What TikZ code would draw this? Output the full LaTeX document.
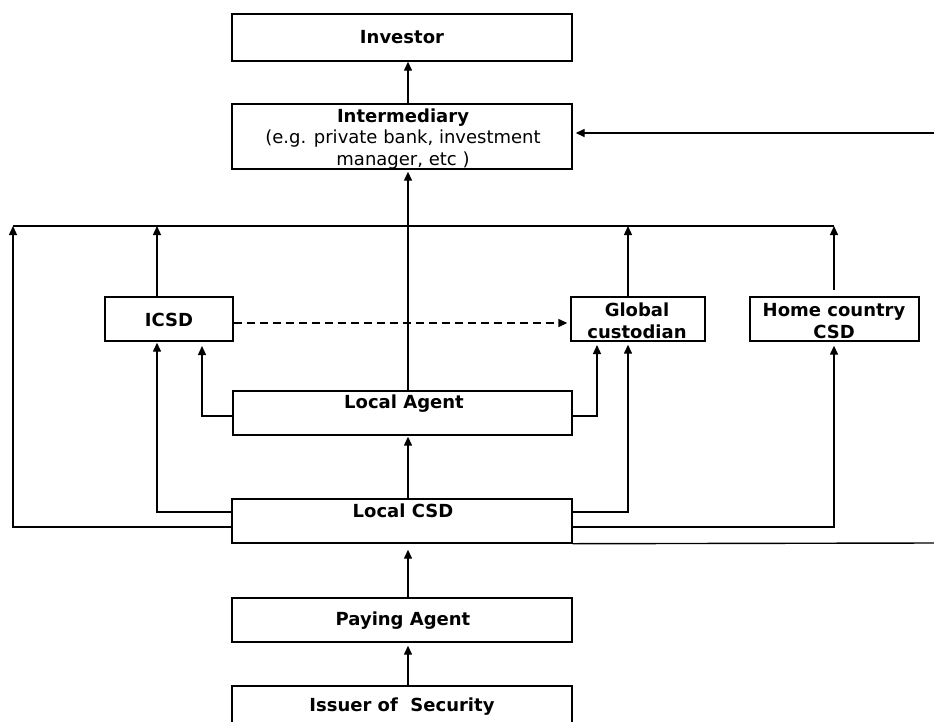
\documentclass[tikz,border=0pt]{standalone}
\usepackage{fontspec}
\setmainfont{DejaVu Sans}
\usetikzlibrary{arrows.meta}
\begin{document}
\begin{tikzpicture}[x=1pt,y=-1pt,
  font=\fontsize{18}{21.5}\selectfont,
  box/.style={draw,line width=1.4pt,inner sep=0pt,rectangle},
  conn/.style={line width=1.4pt},
  arr/.style={conn,-{Triangle[length=9pt,width=8pt]}},
  lbl/.style={inner sep=0pt,align=center,font=\fontsize{18}{21.5}\selectfont\bfseries}]
\useasboundingbox (0,0) rectangle (934,721);
\clip (0,0) rectangle (934,721);
% boxes
\node[box,minimum width=340pt,minimum height=47pt,font=\fontsize{18}{21.5}\selectfont\bfseries] (inv) at (402,37.5) {Investor};
\node[box,minimum width=340pt,minimum height=65pt] (int) at (402,136.5) {};
\node[lbl,font=\fontsize{18}{21.5}\selectfont] (inttext) at (403,139) {\textbf{Intermediary}\\(e.g. private bank, investment\\manager, etc )};
\node[box,minimum width=128pt,minimum height=44pt] (icsd) at (169,319) {};
\node[lbl] (icsdtext) at (169,320) {ICSD};
\node[box,minimum width=134pt,minimum height=44pt] (glob) at (638,319) {};
\node[lbl] (globtext) at (637,321) {Global\\custodian};
\node[box,minimum width=169pt,minimum height=44pt] (home) at (834.5,319) {};
\node[lbl] (hometext) at (834,321) {Home country\\CSD};
\node[box,minimum width=339pt,minimum height=44pt] (la) at (402.5,413) {};
\node[lbl] (latext) at (404,404) {Local Agent};
\node[box,minimum width=340pt,minimum height=44pt] (lcsd) at (402,521) {};
\node[lbl] (lcsdtext) at (403,511) {Local CSD};
\node[box,minimum width=340pt,minimum height=44pt] (pay) at (402,620) {};
\node[lbl] (paytext) at (403,621) {Paying Agent};
\node[box,minimum width=340pt,minimum height=44pt] (iss) at (402,708) {};
\node[lbl] (isstext) at (402,707) {Issuer of\ \ Security};
% coordinates
\coordinate (topL) at (13,226);
\coordinate (topR) at (834,226);
\coordinate (rin) at (934,133);
\coordinate (rout) at (934,543);
% connectors
\draw[arr] (int.north -| 408,0) -- (inv.south -| 408,0);
\draw[arr,shorten >=3pt] (rin) -- (rin -| int.east);
\draw[arr,shorten >=2pt] (la.north -| 408,0) -- (int.south -| 408,0);
\draw[conn] (topL) -- (topR);
\draw[arr] (icsd.north -| 157,0) -- (topL -| 157,0);
\draw[arr] (glob.north -| 628,0) -- (topL -| 628,0);
\draw[arr] (834,290) -- (topR);
\draw[arr,dashed,dash pattern=on 8pt off 5pt,shorten >=3pt] (icsd.east |- 0,323) -- (glob.west |- 0,323);
\draw[arr] (la.west |- 0,416) -| (202,346);
\draw[arr] (la.east |- 0,416) -| (597,345);
\draw[arr,shorten >=1pt] (lcsd.north -| 408,0) -- (la.south -| 408,0);
\draw[arr,shorten >=1pt] (lcsd.west |- 0,512) -| (icsd.south -| 157,0);
\draw[arr] (lcsd.west |- 0,527) -| (topL);
\draw[arr,shorten >=3pt] (lcsd.east |- 0,512) -| (glob.south -| 628,0);
\draw[arr,shorten >=4pt] (lcsd.east |- 0,527) -| (home.south -| 834,0);
\draw[conn] (lcsd.south east) -- (rout);
\draw[arr,shorten >=6pt] (pay.north -| 408,0) -- (lcsd.south -| 408,0);
\draw[arr,shorten >=3pt] (iss.north -| 408,0) -- (pay.south -| 408,0);
\end{tikzpicture}
\end{document}
